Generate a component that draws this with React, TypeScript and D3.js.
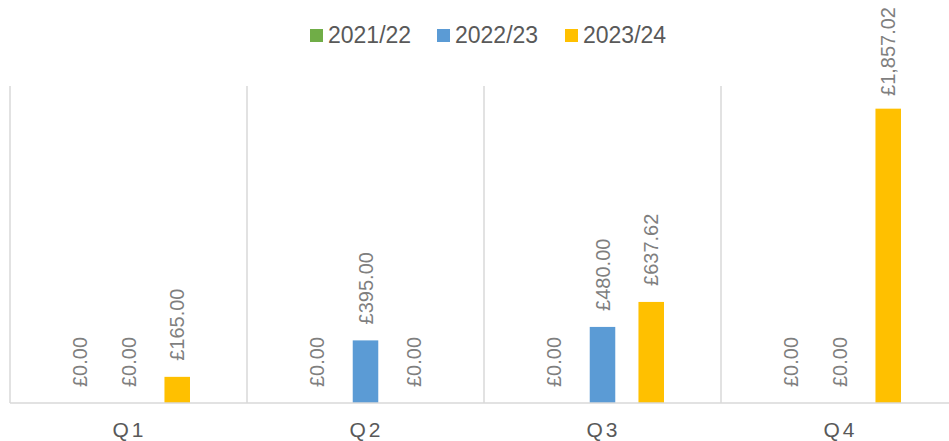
import React, { useEffect, useRef } from "react";
import * as d3 from "d3";

const quarters = ["Q1", "Q2", "Q3", "Q4"];
const seriesNames = ["2021/22", "2022/23", "2023/24"];
const seriesColors = ["#70AD47", "#5B9BD5", "#FFC000"];
const values2122 = [0, 0, 0, 0];
const values2223 = [0, 395, 480, 0];
const values2324 = [165, 0, 637.62, 1857.02];
const seriesValues = [values2122, values2223, values2324];

const WIDTH = 949;
const HEIGHT = 441;

const fmt = (v: number) => "£" + d3.format(",.2f")(v);

const App = () => {
  const svgRef = useRef<SVGSVGElement>(null);

  useEffect(() => {
    document.body.style.margin = "0";
    const svg = d3.select(svgRef.current).attr("width", WIDTH).attr("height", HEIGHT);
    svg.selectAll("*").remove();

    const plot = { left: 10, right: 958, top: 86, bottom: 403 };

    const x0 = d3.scaleBand().domain(quarters).range([plot.left, plot.right]);
    const x1 = d3
      .scaleBand()
      .domain(seriesNames)
      .range([0, x0.bandwidth()])
      .paddingInner(0.476)
      .paddingOuter(1.17);
    const y = d3.scaleLinear().domain([0, 2000]).range([plot.bottom, plot.top]);

    // vertical category gridlines
    svg
      .append("g")
      .selectAll("line")
      .data(quarters)
      .join("line")
      .attr("x1", (d) => x0(d)!)
      .attr("x2", (d) => x0(d)!)
      .attr("y1", plot.top)
      .attr("y2", plot.bottom)
      .attr("stroke", "#d9d9d9")
      .attr("stroke-width", 1.5);

    // bars
    const groups = svg
      .append("g")
      .selectAll("g")
      .data(quarters)
      .join("g")
      .attr("transform", (d) => `translate(${x0(d)},0)`);

    groups
      .selectAll("rect")
      .data((q, qi) => seriesNames.map((s, si) => ({ s, si, v: seriesValues[si][qi] })))
      .join("rect")
      .attr("x", (d) => x1(d.s)!)
      .attr("width", x1.bandwidth())
      .attr("y", (d) => y(d.v))
      .attr("height", (d) => plot.bottom - y(d.v))
      .attr("fill", (d) => seriesColors[d.si]);

    // data labels, rotated
    const labels = groups
      .selectAll("text")
      .data((q, qi) => seriesNames.map((s, si) => ({ s, si, v: seriesValues[si][qi] })))
      .join("text")
      .text((d) => fmt(d.v))
      .attr("font-family", "Arial, 'Liberation Sans', sans-serif")
      .attr("font-size", 20)
      .attr("fill", "#7f7f7f")
      .attr("text-anchor", "start")
      .attr("dominant-baseline", "central");

    labels.each(function (d) {
      const len = (this as SVGTextElement).getComputedTextLength();
      const cx = x1(d.s)! + x1.bandwidth() / 2;
      const yy = Math.max(y(d.v) - 16, 7 + len);
      d3.select(this).attr("transform", `translate(${cx},${yy}) rotate(-90)`);
    });

    // baseline
    svg
      .append("line")
      .attr("x1", plot.left)
      .attr("x2", plot.right)
      .attr("y1", plot.bottom)
      .attr("y2", plot.bottom)
      .attr("stroke", "#d9d9d9")
      .attr("stroke-width", 1.5);

    // category labels
    svg
      .append("g")
      .selectAll("text")
      .data(quarters)
      .join("text")
      .attr("x", (d) => x0(d)! + x0.bandwidth() / 2 + 1)
      .attr("y", 437)
      .attr("text-anchor", "middle")
      .attr("font-family", "Arial, 'Liberation Sans', sans-serif")
      .attr("font-size", 21)
      .attr("letter-spacing", 3)
      .attr("fill", "#595959")
      .text((d) => d);

    // legend
    const legendX = [310, 437, 565];
    const legend = svg
      .append("g")
      .selectAll("g")
      .data(seriesNames)
      .join("g")
      .attr("transform", (d, i) => `translate(${legendX[i]},29)`);
    legend
      .append("rect")
      .attr("width", 13)
      .attr("height", 13)
      .attr("fill", (d, i) => seriesColors[i]);
    legend
      .append("text")
      .attr("x", 18)
      .attr("y", 14)
      .attr("font-family", "Arial, 'Liberation Sans', sans-serif")
      .attr("font-size", 23)
      .attr("fill", "#595959")
      .text((d) => d);
  }, []);

  return <svg ref={svgRef} style={{ display: "block" }}></svg>;
};

export default App;
